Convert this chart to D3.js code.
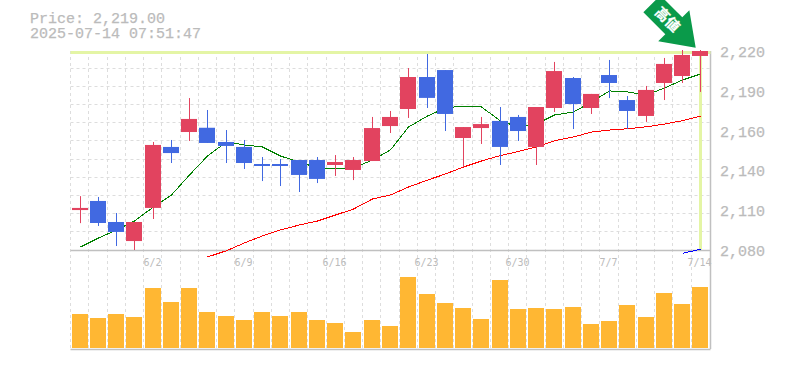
<!DOCTYPE html>
<html>
<head>
<meta charset="utf-8">
<script src="https://cdn.jsdelivr.net/npm/d3@7"></script>
<style>
  html, body { margin: 0; padding: 0; background: #fff; }
  svg { display: block; }
  text { font-family: "Liberation Mono", monospace; fill: #bbb; stroke: #bbb; stroke-width: 0.25; }
</style>
</head>
<body>
<div id="frame"></div>
<script>
const infoLines = ["Price: 2,219.00", "2025-07-14 07:51:47"];
const lastPrice = 2219;

const days = d3.range(35);
const dateLabels = [[4, "6/2"], [9, "6/9"], [14, "6/16"], [19, "6/23"], [24, "6/30"], [29, "7/7"], [34, "7/14"]];
const priceTicks = [2220, 2192, 2164, 2136, 2108, 2080];
const priceLabels = ["2,220", "2,190", "2,160", "2,140", "2,110", "2,080"];

const opens = [2108.1, 2114.5, 2099.7, 2086.3, 2109.6, 2152.5, 2163.0, 2166.0, 2156.0, 2152.5,
  2140.5, 2140.5, 2143.3, 2143.3, 2139.8, 2136.3, 2142.6, 2167.2, 2179.2, 2201.7,
  2206.6, 2158.8, 2165.8, 2170.8, 2173.6, 2152.5, 2179.9, 2201.0, 2179.9, 2203.1,
  2185.5, 2174.3, 2197.5, 2202.4, 2216.5];
const highs = [2117.9, 2117.3, 2106.0, 2099.7, 2156.0, 2157.4, 2186.9, 2178.5, 2164.4, 2157.4,
  2145.4, 2144.0, 2143.3, 2145.4, 2146.8, 2145.4, 2173.6, 2177.8, 2208.0, 2217.9,
  2206.6, 2166.5, 2173.6, 2180.6, 2175.0, 2180.6, 2212.3, 2201.7, 2189.8, 2213.7,
  2188.3, 2195.4, 2215.1, 2220.7, 2220.7];
const lows = [2098.9, 2096.9, 2082.8, 2080.0, 2101.8, 2141.2, 2156.7, 2155.3, 2141.2, 2137.0,
  2128.5, 2125.0, 2120.8, 2127.1, 2132.1, 2129.2, 2142.6, 2162.3, 2172.9, 2179.9,
  2163.7, 2138.4, 2154.6, 2139.8, 2156.7, 2139.8, 2177.1, 2165.1, 2175.7, 2186.9,
  2165.1, 2170.1, 2185.5, 2197.5, 2191.2];
const closes = [2109.6, 2099.0, 2092.7, 2099.7, 2153.9, 2148.2, 2172.2, 2155.3, 2153.2, 2141.2,
  2139.1, 2139.1, 2132.8, 2130.0, 2141.9, 2143.3, 2165.8, 2173.6, 2201.7, 2187.0,
  2175.7, 2166.5, 2168.6, 2152.5, 2163.7, 2180.6, 2205.9, 2182.7, 2189.8, 2197.5,
  2177.8, 2192.6, 2210.9, 2217.2, 2220.0];

const maShort = [2082.1, 2088.4, 2094.1, 2100.4, 2110.3, 2118.7, 2132.8, 2146.1, 2156.0, 2153.9,
  2152.5, 2146.1, 2141.9, 2137.7, 2137.0, 2137.7, 2143.3, 2150.4, 2166.5, 2174.3,
  2179.9, 2181.3, 2180.6, 2170.8, 2166.5, 2168.6, 2175.0, 2177.1, 2184.1, 2191.9,
  2191.2, 2189.0, 2194.0, 2199.6, 2203.8];
const maMid = [null, null, null, null, null, null, null, 2075.1, 2079.5, 2085.0,
  2089.9, 2094.1, 2097.6, 2100.4, 2104.6, 2108.8, 2115.9, 2118.7, 2124.3, 2129.2,
  2133.5, 2138.4, 2142.6, 2146.5, 2149.3, 2152.5, 2156.9, 2159.5, 2163.0, 2164.4,
  2165.3, 2166.7, 2168.6, 2171.0, 2174.1];
const maLong = [null, null, null, null, null, null, null, null, null, null,
  null, null, null, null, null, null, null, null, null, null,
  null, null, null, null, null, null, null, null, null, null,
  null, null, null, 2077.7, 2080.5];

const volumes = [34, 30, 34, 31, 60, 46, 60, 36, 32, 28, 36, 32, 36, 28, 25, 16, 28, 22,
  71, 54, 45, 40, 29, 68, 39, 40, 39, 41, 24, 27, 43, 31, 55, 44, 61];

const arrowText = "高値";

// set the dimensions and margins of the graph
const width = 785, height = 370;
const plot = { left: 70.5, right: 709.5, top: 51, bottom: 250, volBottom: 349 };
const bodyW = 16;
const upColor = "#e2435f", downColor = "#4169e1", barColor = "#ffb733";
const hairColor = "#e4f5a5", gridColor = "#ddd", axisColor = "#c0c0c0";

const svg = d3.select("#frame").append("svg").attr("width", width).attr("height", height);

const x = d3.scaleBand().domain(days).range([plot.left, plot.right]);
const y = d3.scaleLinear().domain([2080, 2220]).range([plot.bottom, plot.top]);
const yVol = d3.scaleLinear().domain([0, 100]).range([plot.volBottom - 1, plot.volBottom - 101]);
const cx = (i) => Math.round(x(i) + x.bandwidth() / 2) + 0.5;
const gridY = (d) => Math.floor(plot.top - 1 + (d * 200) / 11) + 0.5;

// grid
const grid = svg.append("g").attr("stroke", gridColor).attr("stroke-dasharray", "3,3");
grid.selectAll("line.v").data(days).join("line")
  .attr("class", "v")
  .attr("x1", (d) => Math.floor(x(d)) + 0.5).attr("x2", (d) => Math.floor(x(d)) + 0.5)
  .attr("y1", plot.top).attr("y2", plot.volBottom);
grid.selectAll("line.h").data(d3.range(1, 11)).join("line")
  .attr("class", "h")
  .attr("x1", plot.left).attr("x2", plot.right)
  .attr("y1", gridY).attr("y2", gridY);

// axes frame
svg.append("line").attr("x1", plot.left).attr("x2", plot.right + 1)
  .attr("y1", plot.bottom + 0.5).attr("y2", plot.bottom + 0.5)
  .attr("stroke", axisColor).attr("stroke-width", 1.5);
svg.append("line").attr("x1", plot.left).attr("x2", plot.right + 1)
  .attr("y1", plot.volBottom + 0.5).attr("y2", plot.volBottom + 0.5)
  .attr("stroke", axisColor).attr("stroke-width", 1.5);
svg.append("line").attr("x1", plot.right + 1).attr("x2", plot.right + 1)
  .attr("y1", plot.top).attr("y2", plot.volBottom)
  .attr("stroke", axisColor).attr("stroke-width", 1.5);

// crosshair on the last price
svg.append("line").attr("x1", plot.left).attr("x2", plot.right + 1)
  .attr("y1", y(lastPrice)).attr("y2", y(lastPrice))
  .attr("stroke", hairColor).attr("stroke-width", 3);
svg.append("line").attr("x1", cx(34)).attr("x2", cx(34)).attr("y1", plot.top).attr("y2", plot.bottom)
  .attr("stroke", hairColor).attr("stroke-width", 3);

// volume bars
svg.append("g").selectAll("rect").data(volumes).join("rect")
  .attr("x", (d, i) => cx(i) - 0.5 - bodyW / 2)
  .attr("y", (d) => yVol(d))
  .attr("width", bodyW)
  .attr("height", (d) => yVol(0) - yVol(d))
  .attr("fill", barColor);

// moving averages
const line = d3.line().defined((d) => d != null).x((d, i) => cx(i)).y((d) => y(d));
[[maShort, "green"], [maMid, "red"], [maLong, "blue"]].forEach(([s, c]) => {
  svg.append("path").attr("d", line(s)).attr("fill", "none").attr("stroke", c)
    .attr("stroke-width", 1).attr("shape-rendering", "crispEdges");
});

// candles
const candles = svg.append("g").selectAll("g").data(days).join("g")
  .attr("fill", (i) => (closes[i] >= opens[i] ? upColor : downColor))
  .attr("stroke", (i) => (closes[i] >= opens[i] ? upColor : downColor));
candles.append("line")
  .attr("x1", cx).attr("x2", cx)
  .attr("y1", (i) => y(highs[i])).attr("y2", (i) => y(lows[i]))
  .attr("stroke-width", 1);
candles.append("rect")
  .attr("x", (i) => cx(i) - 0.5 - bodyW / 2)
  .attr("y", (i) => y(Math.max(opens[i], closes[i])))
  .attr("width", bodyW)
  .attr("height", (i) => Math.max(2, Math.abs(y(opens[i]) - y(closes[i]))))
  .attr("stroke", "none");

// text
svg.append("g").selectAll("text").data(infoLines).join("text")
  .attr("x", 30).attr("y", (d, i) => 23 + i * 15)
  .attr("font-size", 15)
  .text((d) => d);
svg.append("g").selectAll("text").data(priceTicks).join("text")
  .attr("x", 720).attr("y", (d) => y(d) + 6)
  .attr("font-size", 15)
  .text((d, i) => priceLabels[i]);
svg.append("g").selectAll("text").data(dateLabels).join("text")
  .attr("x", (d) => cx(d[0]) - 1).attr("y", 266)
  .attr("text-anchor", "middle")
  .attr("font-size", 10)
  .style("font-family", '"DejaVu Sans Mono"')
  .style("stroke-width", 0)
  .text((d) => d[1]);

// arrow marker above the last candle
const arrow = svg.append("g")
  .attr("transform", `translate(${cx(34) - 4.8},${y(highs[34]) - 2.3}) rotate(45)`);
arrow.append("path")
  .attr("d", d3.line()([[0, 0], [-31, -22], [-31, -12], [-62, -12], [-62, 12], [-31, 12], [-31, 22]]) + "Z")
  .attr("fill", "#0a9a4a");
arrow.append("text")
  .attr("x", -40).attr("y", 5)
  .attr("text-anchor", "middle")
  .attr("font-size", 14)
  .attr("font-weight", "bold")
  .style("font-family", '"Noto Sans CJK JP"')
  .style("fill", "#fff")
  .style("stroke", "#fff")
  .text(arrowText);
</script>
</body>
</html>
